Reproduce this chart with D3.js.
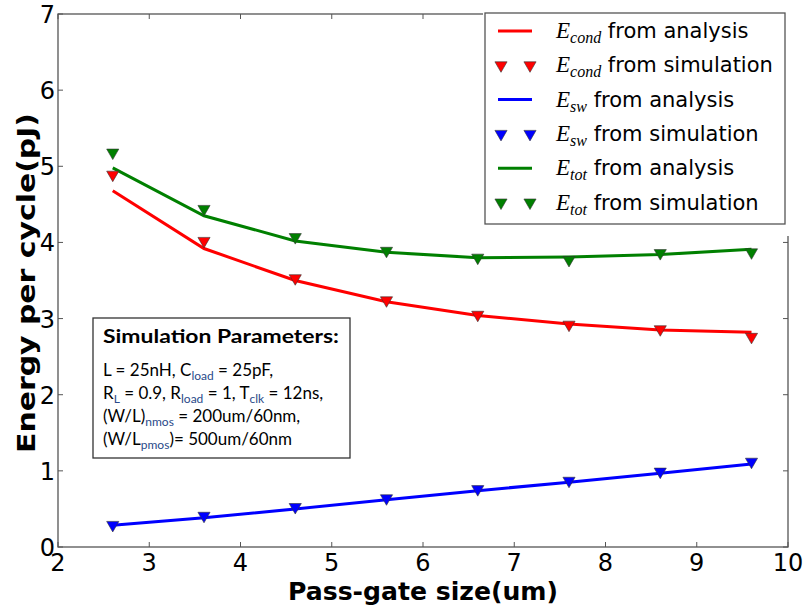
<!DOCTYPE html>
<html>
<head>
<meta charset="utf-8">
<script src="https://cdnjs.cloudflare.com/ajax/libs/d3/7.8.5/d3.min.js"></script>
<style>
  body { margin: 0; background: #fff; }
  svg { display: block; }
</style>
</head>
<body>
<div id="chart"></div>
<script>
// data
var passGate = [2.6, 3.6, 4.6, 5.6, 6.6, 7.6, 8.6, 9.6];
var condAnalysis = [4.68, 3.92, 3.50, 3.22, 3.04, 2.93, 2.85, 2.82];
var condSim = [4.89, 4.02, 3.53, 3.24, 3.05, 2.92, 2.86, 2.76];
var swAnalysis = [0.285, 0.385, 0.50, 0.62, 0.74, 0.85, 0.97, 1.09];
var swSim = [0.29, 0.41, 0.525, 0.64, 0.76, 0.87, 0.99, 1.12];
var totAnalysis = [4.98, 4.35, 4.02, 3.87, 3.80, 3.81, 3.84, 3.91];
var totSim = [5.18, 4.44, 4.07, 3.89, 3.80, 3.77, 3.86, 3.87];
var xTicks = [2, 3, 4, 5, 6, 7, 8, 9, 10];
var yTicks = [0, 1, 2, 3, 4, 5, 6, 7];

var svgWidth = 805;
var svgHeight = 612;

var svg = d3.select("#chart")
    .append("svg")
    .attr("width", svgWidth)
    .attr("height", svgHeight);

var xScale = d3.scaleLinear().domain([2, 10]).range([58, 788]);
var yScale = d3.scaleLinear().domain([0, 7]).range([547, 14]);

var axisColor = "#555";

// frame
svg.append("rect")
    .attr("x", xScale(2))
    .attr("y", yScale(7))
    .attr("width", xScale(10) - xScale(2))
    .attr("height", yScale(0) - yScale(7))
    .attr("fill", "none")
    .attr("stroke", axisColor)
    .attr("stroke-width", 1.3);

// inward ticks on all sides
var tickLen = 5;
var ticks = svg.append("g").attr("stroke", axisColor).attr("stroke-width", 1);
xTicks.forEach(function(t) {
    ticks.append("line").attr("x1", xScale(t)).attr("x2", xScale(t))
        .attr("y1", yScale(0)).attr("y2", yScale(0) - tickLen);
    ticks.append("line").attr("x1", xScale(t)).attr("x2", xScale(t))
        .attr("y1", yScale(7)).attr("y2", yScale(7) + tickLen);
});
yTicks.forEach(function(t) {
    ticks.append("line").attr("x1", xScale(2)).attr("x2", xScale(2) + tickLen)
        .attr("y1", yScale(t)).attr("y2", yScale(t));
    ticks.append("line").attr("x1", xScale(10)).attr("x2", xScale(10) - tickLen)
        .attr("y1", yScale(t)).attr("y2", yScale(t));
});

// tick labels
svg.append("g").selectAll("text")
    .data(xTicks).enter().append("text")
    .attr("x", d => xScale(d))
    .attr("y", 571)
    .attr("text-anchor", "middle")
    .style("font-family", "DejaVu Sans")
    .style("font-size", "24px")
    .text(d => d);

svg.append("g").selectAll("text")
    .data(yTicks).enter().append("text")
    .attr("x", 55)
    .attr("y", d => yScale(d) + 9)
    .attr("text-anchor", "end")
    .style("font-family", "DejaVu Sans")
    .style("font-size", "24px")
    .text(d => d);

// axis titles
svg.append("text")
    .attr("x", 423)
    .attr("y", 600)
    .attr("text-anchor", "middle")
    .style("font-family", "DejaVu Sans")
    .style("font-weight", "bold")
    .style("font-size", "25px")
    .attr("textLength", 270)
    .attr("lengthAdjust", "spacingAndGlyphs")
    .text("Pass-gate size(um)");

svg.append("text")
    .attr("transform", "translate(35, 283) rotate(-90)")
    .attr("text-anchor", "middle")
    .style("font-family", "DejaVu Sans")
    .style("font-weight", "bold")
    .style("font-size", "25px")
    .attr("textLength", 340)
    .attr("lengthAdjust", "spacingAndGlyphs")
    .text("Energy per cycle(pJ)");

// series
var series = [
    {line: condAnalysis, sim: condSim, color: "#ff0000", name: "cond"},
    {line: swAnalysis, sim: swSim, color: "#0000ff", name: "sw"},
    {line: totAnalysis, sim: totSim, color: "#008000", name: "tot"}
];

var lineGen = d3.line()
    .x((d, i) => xScale(passGate[i]))
    .y(d => yScale(d));

var tri = d3.symbol().type(d3.symbolTriangle).size(64);

series.forEach(function(s) {
    svg.append("path")
        .attr("d", lineGen(s.line))
        .attr("fill", "none")
        .attr("stroke", s.color)
        .attr("stroke-width", 3);
});
series.forEach(function(s) {
    svg.append("g").selectAll("path")
        .data(s.sim).enter().append("path")
        .attr("d", tri)
        .attr("transform", (d, i) => `translate(${xScale(passGate[i])}, ${yScale(d)}) rotate(180)`)
        .attr("fill", s.color)
        .attr("stroke", "#333")
        .attr("stroke-width", 0.6);
});

// legend (hides top/right spine behind it)
svg.append("rect")
    .attr("x", 483).attr("y", 0)
    .attr("width", svgWidth - 483).attr("height", 236)
    .attr("fill", "#fff");

svg.append("rect")
    .attr("x", 485).attr("y", 13)
    .attr("width", 300).attr("height", 211)
    .attr("fill", "#fff")
    .attr("stroke", axisColor)
    .attr("stroke-width", 1.3);

var legendRows = [];
series.forEach(function(s) {
    legendRows.push({kind: "line", s: s, label: " from analysis"});
    legendRows.push({kind: "sim", s: s, label: " from simulation"});
});

legendRows.forEach(function(r, i) {
    var cy = 31 + i * 34.3;
    if (r.kind == "line") {
        svg.append("line")
            .attr("x1", 498).attr("x2", 532)
            .attr("y1", cy).attr("y2", cy)
            .attr("stroke", r.s.color)
            .attr("stroke-width", 3);
    } else {
        [501, 530].forEach(function(mx) {
            svg.append("path")
                .attr("d", tri)
                .attr("transform", `translate(${mx}, ${cy}) rotate(180)`)
                .attr("fill", r.s.color)
                .attr("stroke", "#333")
                .attr("stroke-width", 0.6);
        });
    }
    var t = svg.append("text")
        .attr("x", 556)
        .attr("y", cy + 7)
        .style("font-size", "21px");
    t.append("tspan")
        .style("font-family", "Liberation Serif")
        .style("font-style", "italic")
        .style("font-size", "23px")
        .text("E");
    t.append("tspan")
        .attr("dy", 5)
        .style("font-family", "Liberation Serif")
        .style("font-style", "italic")
        .style("font-size", "16px")
        .text(r.s.name);
    t.append("tspan")
        .attr("dy", -5)
        .style("font-family", "DejaVu Sans")
        .text(r.label);
});

// parameter box
svg.append("rect")
    .attr("x", 93).attr("y", 318)
    .attr("width", 257).attr("height", 140)
    .attr("fill", "#fff")
    .attr("stroke", "#333")
    .attr("stroke-width", 1.3);

svg.append("text")
    .attr("x", 103).attr("y", 343)
    .style("font-family", "Lato")
    .style("font-weight", "bold")
    .style("font-size", "19px")
    .attr("textLength", 236)
    .attr("lengthAdjust", "spacingAndGlyphs")
    .text("Simulation Parameters:");

var subColor = "#2a4a8a";
var paramLines = [
    [["L = 25nH, C", 0], ["load", 1], [" = 25pF,", 0]],
    [["R", 0], ["L", 1], [" = 0.9, R", 0], ["load", 1], [" = 1, T", 0], ["clk", 1], [" = 12ns,", 0]],
    [["(W/L)", 0], ["nmos", 1], [" = 200um/60nm,", 0]],
    [["(W/L", 0], ["pmos", 1], [")= 500um/60nm", 0]]
];

paramLines.forEach(function(parts, i) {
    var t = svg.append("text")
        .attr("x", 103)
        .attr("y", 376 + i * 23)
        .style("font-family", "Lato")
        .style("font-size", "17px");
    var prevSub = 0;
    parts.forEach(function(p) {
        var ts = t.append("tspan").text(p[0]);
        if (p[1] != prevSub) ts.attr("dy", p[1] ? 4 : -4);
        if (p[1]) ts.style("font-size", "12px").attr("fill", subColor);
        prevSub = p[1];
    });
});
</script>
</body>
</html>
